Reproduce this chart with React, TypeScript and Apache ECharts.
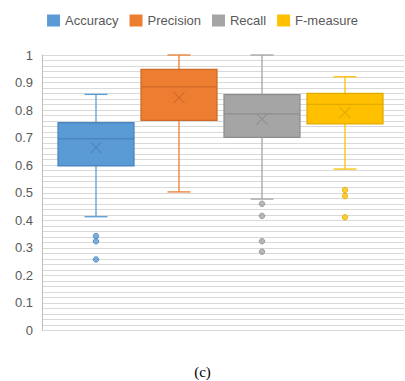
import React, { useEffect, useRef } from "react";
import * as echarts from "echarts";

const metrics = ["Accuracy", "Precision", "Recall", "F-measure"];
const mins = [0.413, 0.503, 0.477, 0.586];
const q1s = [0.598, 0.763, 0.701, 0.75];
const medians = [0.696, 0.884, 0.786, 0.821];
const q3s = [0.754, 0.948, 0.856, 0.861];
const maxs = [0.857, 1.0, 1.0, 0.921];
const means = [0.664, 0.845, 0.767, 0.791];
const outliers = [
  [0.343, 0.324, 0.258],
  [],
  [0.46, 0.416, 0.324, 0.286],
  [0.51, 0.488, 0.411],
];
const yTicks = [0, 1, 0.1];

const fills = ["#5B9BD5", "#ED7D31", "#A5A5A5", "#FFC000"];
const borders = ["#4A86C2", "#D06A27", "#8E8E8E", "#E3AA00"];

export default function App() {
  const ref = useRef<HTMLDivElement>(null);
  useEffect(() => {
    document.body.style.margin = "0";
    const chart = echarts.init(ref.current!, null, { renderer: "svg" });
    const series: any[] = [];
    metrics.forEach((name, i) => {
      series.push({
        name,
        type: "custom",
        xAxisIndex: 1,
        yAxisIndex: 1,
        itemStyle: { color: fills[i] },
        encode: { x: 0, y: [1, 2, 3, 4, 5, 6] },
        data: [[i, mins[i], q1s[i], medians[i], q3s[i], maxs[i], means[i]]],
        renderItem: (params: any, api: any) => {
          const c = api.value(0);
          const cx = api.coord([c, 0])[0];
          const y = (v: number) => api.coord([c, v])[1];
          const yMin = y(api.value(1));
          const yQ1 = y(api.value(2));
          const yMed = y(api.value(3));
          const yQ3 = y(api.value(4));
          const yMax = y(api.value(5));
          const yMean = y(api.value(6));
          const bw = api.size([1, 0])[0] * 0.915;
          const cap = 11.5;
          const mk = 5.5;
          const wl = { stroke: fills[i], lineWidth: 1.3 };
          const dl = { stroke: borders[i], lineWidth: 1.3 };
          return {
            type: "group",
            children: [
              { type: "line", shape: { x1: cx, y1: yMax, x2: cx, y2: yQ3 }, style: wl },
              { type: "line", shape: { x1: cx - cap, y1: yMax, x2: cx + cap, y2: yMax }, style: wl },
              { type: "line", shape: { x1: cx, y1: yQ1, x2: cx, y2: yMin }, style: wl },
              { type: "line", shape: { x1: cx - cap, y1: yMin, x2: cx + cap, y2: yMin }, style: wl },
              {
                type: "rect",
                shape: { x: cx - bw / 2, y: yQ3, width: bw, height: yQ1 - yQ3 },
                style: { fill: fills[i], stroke: borders[i], lineWidth: 1.3 },
              },
              { type: "line", shape: { x1: cx - bw / 2, y1: yMed, x2: cx + bw / 2, y2: yMed }, style: dl },
              { type: "line", shape: { x1: cx - mk, y1: yMean - mk, x2: cx + mk, y2: yMean + mk }, style: { stroke: borders[i], lineWidth: 1.1 } },
              { type: "line", shape: { x1: cx - mk, y1: yMean + mk, x2: cx + mk, y2: yMean - mk }, style: { stroke: borders[i], lineWidth: 1.1 } },
            ],
          };
        },
      });
      series.push({
        name,
        type: "scatter",
        xAxisIndex: 1,
        yAxisIndex: 1,
        symbol: "circle",
        symbolSize: 5.5,
        itemStyle: { color: fills[i], borderColor: borders[i], borderWidth: 1 },
        data: outliers[i].map((v) => [i, v]),
      });
    });

    chart.setOption({
      animation: false,
      legend: {
        data: metrics,
        top: 9,
        left: "center",
        icon: "rect",
        itemWidth: 13,
        itemHeight: 12,
        itemGap: 11,
        textStyle: { fontSize: 13, color: "#595959", fontFamily: "Liberation Sans" },
      },
      grid: [
        { left: 42, right: 1, top: 55, height: 275.5 },
        { left: 54.5, width: 332, top: 55, height: 275.5 },
      ],
      xAxis: [
        { type: "value", gridIndex: 0, show: false, min: 0, max: 1 },
        { type: "category", gridIndex: 1, show: false, data: metrics },
      ],
      yAxis: [
        {
          type: "value",
          gridIndex: 0,
          min: yTicks[0],
          max: yTicks[1],
          interval: yTicks[2],
          axisLine: { show: true, lineStyle: { color: "#BFBFBF", width: 1 } },
          axisTick: { show: false },
          axisLabel: { fontSize: 13, color: "#595959", margin: 9, fontFamily: "Liberation Sans" },
          splitLine: { show: true, lineStyle: { color: "#D9D9D9", width: 1.2 } },
          minorTick: { show: false, splitNumber: 5 },
          minorSplitLine: { show: true, lineStyle: { color: "#D9D9D9", width: 1.2 } },
        },
        { type: "value", gridIndex: 1, show: false, min: 0, max: 1 },
      ],
      graphic: [
        {
          type: "text",
          left: "center",
          top: 364,
          style: { text: "(c)", font: "15px 'Liberation Serif'", fill: "#000" },
        },
      ],
      series,
    });
    return () => chart.dispose();
  }, []);
  return <div ref={ref} style={{ width: 405, height: 381 }} />;
}
